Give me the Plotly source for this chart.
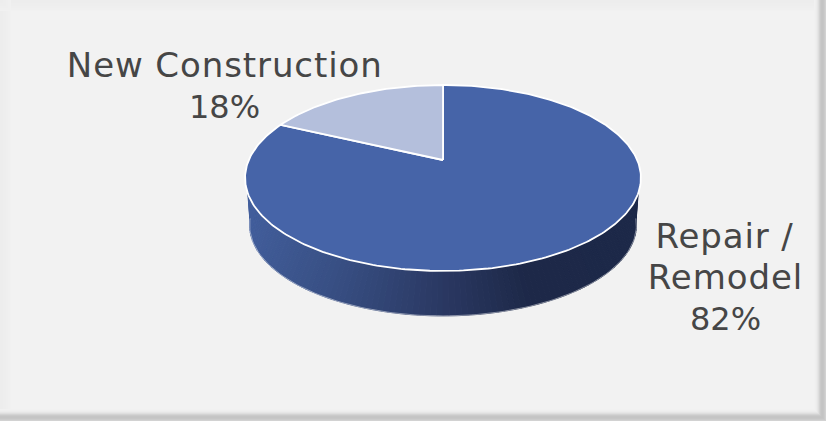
import math
import plotly.graph_objects as go

# Chart data
categories = ["Repair / Remodel", "New Construction"]
shares = [82, 18]
slice_colors = ["#4664A8", "#B4BFDC"]

WIDTH, HEIGHT = 826, 421
PAGE = "#F2F2F2"
TEXT = "#464646"

# Perspective disc: the tilt makes the near half of the circle look deeper than the far half
CX, TOP_Y = 443.0, 160.0
RX, RY, TILT = 194.2, 89.5, 0.1935
BASE_Y, BASE_SCALE = 207.5, 0.977


def project(angle, base=False):
    """Screen position of a rim point; angle in degrees, clockwise from the far side."""
    a = math.radians(angle)
    u, v = math.sin(a), -math.cos(a)
    w = 1 - TILT * v
    scale = BASE_SCALE if base else 1.0
    y0 = BASE_Y if base else TOP_Y
    return CX + scale * RX * u / w, y0 + scale * RY * v / w


def lerp_color(stops, t):
    for (t0, c0), (t1, c1) in zip(stops, stops[1:]):
        if t <= t1:
            f = (t - t0) / (t1 - t0) if t1 > t0 else 0
            return "rgb(%d,%d,%d)" % tuple(round(a + (b - a) * f) for a, b in zip(c0, c1))
    return "rgb(%d,%d,%d)" % stops[-1][1]


# Horizontal shading of the outer wall, dark towards the right
wall_stops = [
    (0.00, (66, 94, 156)),
    (0.25, (55, 78, 130)),
    (0.50, (42, 56, 98)),
    (0.70, (29, 40, 72)),
    (1.00, (28, 40, 72)),
]

fig = go.Figure()

# Wall, as narrow quads round the front; the top edge starts below the disc's widest point
steps = 110
TOP_START, TOP_END = 110, 250
FOOT_START, FOOT_END = 97, 263
for i in range(steps):
    f0, f1 = i / steps, (i + 1) / steps
    p = [
        project(TOP_START + (TOP_END - TOP_START) * f0),
        project(TOP_START + (TOP_END - TOP_START) * f1),
        project(FOOT_START + (FOOT_END - FOOT_START) * f1, True),
        project(FOOT_START + (FOOT_END - FOOT_START) * f0, True),
    ]
    t = (((p[0][0] + p[1][0]) / 2) - (CX - RX)) / (2 * RX)
    color = lerp_color(wall_stops, t)
    fig.add_trace(go.Scatter(
        x=[q[0] for q in p] + [p[0][0]],
        y=[q[1] for q in p] + [p[0][1]],
        mode="lines", fill="toself", fillcolor=color,
        line=dict(color=color, width=1), hoverinfo="skip",
    ))

# Pale rim along the foot of the wall
foot = [project(FOOT_START + (FOOT_END - FOOT_START) * i / 120, True) for i in range(121)]
fig.add_trace(go.Scatter(
    x=[q[0] for q in foot], y=[q[1] for q in foot], mode="lines",
    line=dict(color="rgba(255,255,255,0.45)", width=1), hoverinfo="skip",
))

# Top face, one slice per share, clockwise from the far side
start = 0.0
total = sum(shares)
for name, share, color in zip(categories, shares, slice_colors):
    sweep = 360.0 * share / total
    n = max(int(sweep), 2)
    rim = [project(start + sweep * i / n) for i in range(n + 1)]
    xs = [CX] + [q[0] for q in rim] + [CX]
    ys = [TOP_Y] + [q[1] for q in rim] + [TOP_Y]
    fig.add_trace(go.Scatter(
        x=xs, y=ys, mode="lines", fill="toself", fillcolor=color,
        line=dict(color="#FFFFFF", width=1.8), name=name,
        hoverinfo="skip",
    ))
    start += sweep

# Soft frame: light on the top and left, shadow on the right and bottom
shapes = []


def band(x0, y0, x1, y1, color):
    shapes.append(dict(
        type="rect", xref="x", yref="y", x0=x0, y0=y0, x1=x1, y1=y1,
        fillcolor=color, line=dict(width=0), layer="below",
    ))


for i, c in enumerate(["#EDEDED", "#EDEDED", "#EDEDED", "#EEEEEE", "#EEEEEE", "#EEEEEE",
                       "#EFEFEF", "#EFEFEF", "#F0F0F0", "#F0F0F0", "#F1F1F1"]):
    band(i, 0, i + 1, HEIGHT, c)
    band(0, i, WIDTH, i + 1, c)
right_fade = ["#F1F1F1", "#EFEFEF", "#ECECEC", "#E6E6E6", "#DEDEDE", "#D3D3D3",
              "#CACACA", "#C5C5C5", "#C4C4C4", "#C6C6C6", "#CBCBCB", "#D2D2D2"]
for i, c in enumerate(right_fade):
    band(WIDTH - 12 + i, 0, WIDTH - 11 + i, HEIGHT, c)
    band(0, HEIGHT - 12 + i, WIDTH, HEIGHT - 11 + i, c)

# Labels are set line by line to hold a tight leading
NAME_SIZE, PERCENT_SIZE = 34, 32
repair_name, new_name = categories
repair_head, repair_tail = repair_name.split(" / ")
label_lines = [
    (224, 64.5, new_name, NAME_SIZE),
    (224, 106.5, f"{shares[1]}%", PERCENT_SIZE),
    (725, 235.5, f"{repair_head} /", NAME_SIZE),
    (725, 276.5, repair_tail, NAME_SIZE),
    (725, 318.5, f"{shares[0]}%", PERCENT_SIZE),
]
annotations = [
    dict(x=x, y=y, text=text, xref="x", yref="y", showarrow=False,
         font=dict(family="DejaVu Sans", size=size, color=TEXT),
         xanchor="center", yanchor="middle")
    for x, y, text, size in label_lines
]

fig.update_layout(
    width=WIDTH, height=HEIGHT, margin=dict(l=0, r=0, t=0, b=0),
    paper_bgcolor=PAGE, plot_bgcolor=PAGE, showlegend=False,
    hovermode=False, shapes=shapes, annotations=annotations,
    xaxis=dict(range=[0, WIDTH], visible=False, fixedrange=True),
    yaxis=dict(range=[HEIGHT, 0], visible=False, fixedrange=True),
)

# Open the wording up a little; the percentages stay as set
spacing = """document.querySelectorAll('.annotation-text').forEach(t => {
  if (!t.textContent.endsWith('%')) { t.style.letterSpacing = '0.9px'; }
});"""
fig.write_html("out.html", config=dict(displayModeBar=False), post_script=spacing)
